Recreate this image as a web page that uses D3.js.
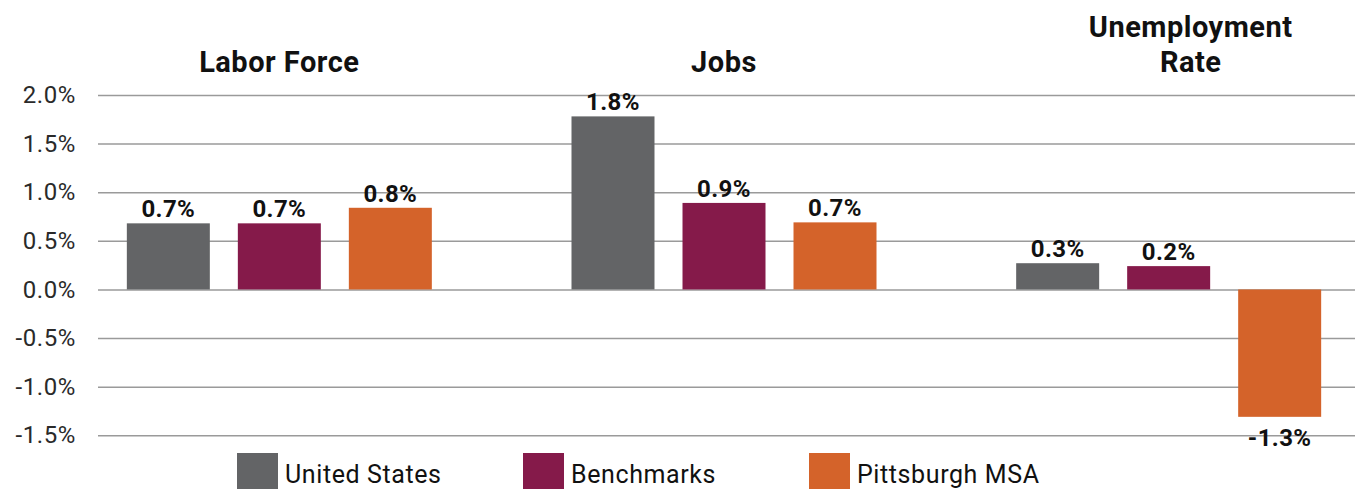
<!DOCTYPE html>
<html>
<head>
<meta charset="utf-8">
<script src="https://cdn.jsdelivr.net/npm/d3@7"></script>
<style>
  html, body { margin: 0; padding: 0; background: #fff; }
  svg { display: block; font-family: Roboto, "Noto Sans", sans-serif; }
</style>
</head>
<body>
<svg id="chart" width="1355" height="489"></svg>
<script>
// data
var categories = ["Labor Force", "Jobs", "Unemployment Rate"];
var seriesNames = ["United States", "Benchmarks", "Pittsburgh MSA"];
var unitedStates = [0.68, 1.78, 0.27];
var benchmarks = [0.68, 0.89, 0.24];
var pittsburgh = [0.84, 0.69, -1.31];
var yTicks = [-1.5, -1.0, -0.5, 0.0, 0.5, 1.0, 1.5, 2.0];
var colors = ["#636466", "#851a4a", "#d4632a"];

var allSeries = [unitedStates, benchmarks, pittsburgh];

function pct(d) {
  return d3.format(".1f")(d).replace("\u2212", "-") + "%";
}

var svg = d3.select("#chart");
var plotLeft = 98, plotRight = 1355;

var y = d3.scaleLinear().domain([-1.5, 2.0]).range([435.3, 95]);

// groups are spread a bit wider than the plot in the original
var x0 = d3.scaleBand().domain(categories).range([57, 1391]);
var x1 = d3.scaleBand().domain(seriesNames).range([-152.5, 152.5]).paddingInner(0.2523).paddingOuter(0);

// grid
var yAxis = d3.axisLeft(y).tickValues(yTicks).tickSize(-(plotRight - plotLeft)).tickFormat(pct);
var gAxis = svg.append("g").attr("transform", "translate(" + plotLeft + ",0)").call(yAxis);
gAxis.select(".domain").remove();
gAxis.selectAll(".tick line").attr("stroke", "#9a9a9a").attr("stroke-width", 1.5);
gAxis.selectAll(".tick text")
  .attr("x", -22)
  .attr("fill", "#2a2a2a")
  .style("font-size", "24px")
  .style("letter-spacing", "0.6px")
  .style("font-family", "Roboto, sans-serif");

// bars
var rows = [];
categories.forEach(function(c, i) {
  seriesNames.forEach(function(s, j) {
    rows.push({ cat: c, ser: s, j: j, v: allSeries[j][i] });
  });
});

function barX(d) { return x0(d.cat) + x0.bandwidth() / 2 + x1(d.ser); }

var groups = svg.append("g");
groups.selectAll("rect").data(rows).enter().append("rect")
  .attr("x", barX)
  .attr("width", x1.bandwidth())
  .attr("y", function(d) { return y(Math.max(0, d.v)); })
  .attr("height", function(d) { return Math.abs(y(d.v) - y(0)); })
  .attr("fill", function(d) { return colors[d.j]; });

groups.selectAll("text.val").data(rows).enter().append("text")
  .attr("class", "val")
  .attr("x", function(d) { return barX(d) + x1.bandwidth() / 2; })
  .attr("y", function(d) { return d.v >= 0 ? y(d.v) - 6 : y(d.v) + 29; })
  .attr("text-anchor", "middle")
  .attr("fill", "#111")
  .style("font-size", "24px")
  .style("letter-spacing", "0.4px")
  .style("font-weight", "bold")
  .text(function(d) { return pct(d.v); });

// category titles
var titleLines = [["Labor Force"], ["Jobs"], ["Unemployment", "Rate"]];
var titles = svg.append("g");
categories.forEach(function(c, i) {
  var lines = titleLines[i];
  var cx = x0(c) + x0.bandwidth() / 2 + (lines.length > 1 ? 22 : 0);
  var t = titles.append("text")
    .attr("text-anchor", "middle")
    .attr("fill", "#111")
    .style("font-size", "29px")
    .style("letter-spacing", "0.5px")
    .style("font-weight", "bold");
  lines.forEach(function(l, k) {
    t.append("tspan").attr("x", cx).attr("y", 72 - (lines.length - 1 - k) * 35).text(l);
  });
});

// legend
var legend = svg.append("g").attr("transform", "translate(237,453)");
var li = legend.selectAll("g").data(seriesNames).enter().append("g")
  .attr("transform", function(d, i) { return "translate(" + (i * 286) + ",0)"; });
li.append("rect").attr("width", 41).attr("height", 41).attr("fill", function(d, i) { return colors[i]; });
li.append("text").attr("x", 48).attr("y", 30)
  .attr("fill", "#111")
  .style("font-size", "25px")
  .style("letter-spacing", "0.6px")
  .text(function(d) { return d; });
</script>
</body>
</html>
